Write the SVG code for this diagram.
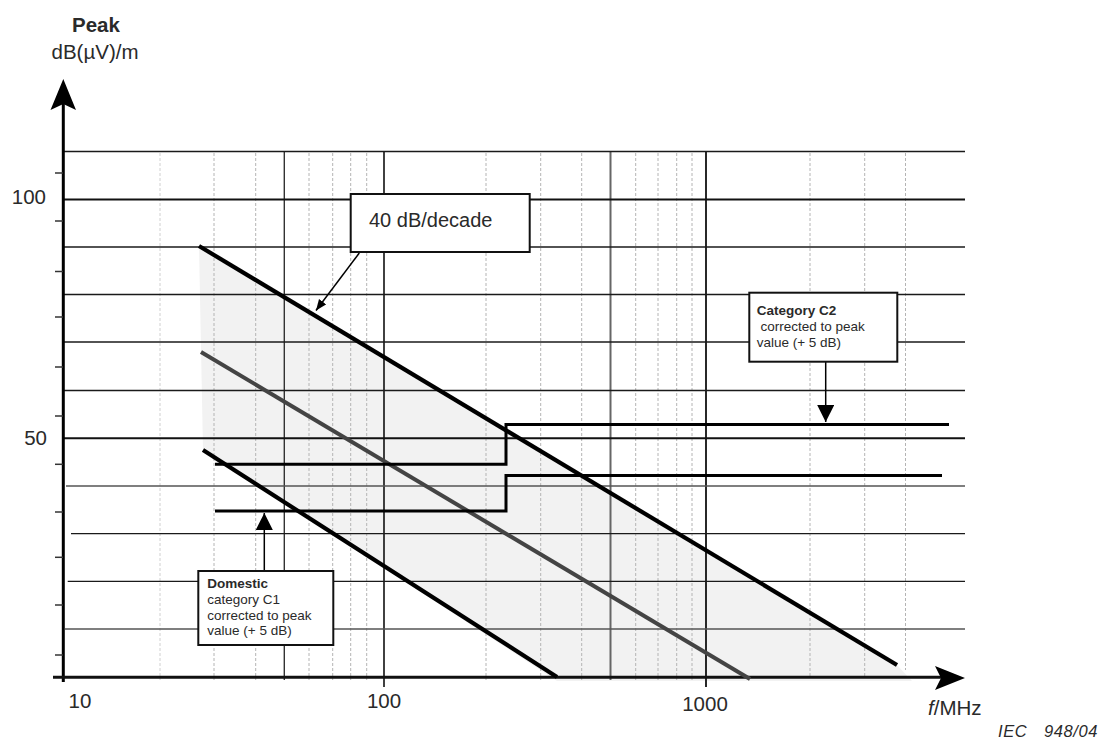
<svg xmlns="http://www.w3.org/2000/svg" width="1100" height="742" viewBox="0 0 1100 742">
<style>
text{font-family:"Liberation Sans",Arial,sans-serif;fill:#2a2a2a}
.hg{stroke:#1a1a1a;stroke-width:1.3;fill:none}
.hgb{stroke:#111;stroke-width:2;fill:none}
.vd{stroke:#b4b4b4;stroke-width:1;stroke-dasharray:3 2;fill:none}
.vs{stroke:#333;stroke-width:1.4;fill:none}
.tick{stroke:#333;stroke-width:1.5}
.lim{stroke:#000;stroke-width:3;fill:none}
.box{fill:#fff;stroke:#111;stroke-width:2}
.lbl{font-size:13.5px}
.num{font-size:20.5px}
.conn{stroke:#000;stroke-width:1.5;fill:none}
</style>
<defs>
<marker id="smallHead" markerUnits="userSpaceOnUse" markerWidth="12" markerHeight="10" refX="11" refY="4.5" orient="auto">
<path d="M0,0 L11,4.5 L0,9 z" fill="#000"/>
</marker>
<marker id="bigHead" markerUnits="userSpaceOnUse" markerWidth="18" markerHeight="18" refX="17" refY="8.5" orient="auto">
<path d="M0,0 L17,8.5 L0,17 z" fill="#000"/>
</marker>
</defs>
<rect width="1100" height="742" fill="#fff"/>

<g id="shading">
<polygon points="199,246 897,665 912,681 557,681 203,450" fill="#f2f2f2"/>
</g>

<g id="grid">
<line class="vd" x1="160" y1="153" x2="160" y2="680" style="stroke:#d0d0d0"/>
<line class="vd" x1="214" y1="153" x2="214" y2="680"/>
<line class="vd" x1="255.7" y1="153" x2="255.7" y2="680"/>
<line class="vd" x1="309" y1="153" x2="309" y2="680"/>
<line class="vd" x1="332.7" y1="153" x2="332.7" y2="680"/>
<line class="vd" x1="350.7" y1="153" x2="350.7" y2="680"/>
<line class="vd" x1="366.7" y1="153" x2="366.7" y2="680"/>
<line class="vd" x1="486" y1="153" x2="486" y2="680"/>
<line class="vd" x1="540.7" y1="153" x2="540.7" y2="680"/>
<line class="vd" x1="581.7" y1="153" x2="581.7" y2="680"/>
<line class="vd" x1="635.7" y1="153" x2="635.7" y2="680"/>
<line class="vd" x1="658" y1="153" x2="658" y2="680"/>
<line class="vd" x1="676.7" y1="153" x2="676.7" y2="680"/>
<line class="vd" x1="692" y1="153" x2="692" y2="680"/>
<line class="vd" x1="810" y1="153" x2="810" y2="677"/>
<line class="vd" x1="864.7" y1="153" x2="864.7" y2="676"/>
<line class="vd" x1="905.5" y1="153" x2="905.5" y2="670"/>
<line class="vs" x1="284.3" y1="151" x2="284.3" y2="680"/>
<line class="vs" x1="384" y1="151" x2="384" y2="687" style="stroke:#111;stroke-width:1.6"/>
<line class="vs" x1="610.5" y1="151" x2="610.5" y2="680" style="stroke:#666;stroke-width:2"/>
<line class="vs" x1="706" y1="151" x2="706" y2="687" style="stroke:#111;stroke-width:1.8"/>
<line class="hg" x1="63" y1="151.5" x2="965" y2="151.5"/>
<line class="hgb" x1="63" y1="199.5" x2="965" y2="199.5"/>
<line class="hg" x1="63" y1="247" x2="965" y2="247"/>
<line class="hg" x1="63" y1="294.5" x2="965" y2="294.5"/>
<line class="hg" x1="63" y1="342" x2="965" y2="342"/>
<line class="hg" x1="63" y1="390.5" x2="965" y2="390.5"/>
<line class="hgb" x1="63" y1="438.3" x2="965" y2="438.3"/>
<line class="hg" x1="66" y1="486" x2="965" y2="486" style="stroke:#555"/>
<line class="hg" x1="71" y1="533.7" x2="965" y2="533.7"/>
<line class="hg" x1="67.7" y1="581.3" x2="965" y2="581.3"/>
<line class="hg" x1="65" y1="629" x2="965" y2="629" style="stroke:#555"/>
</g>

<g id="axes">
<line x1="63.3" y1="682" x2="63.3" y2="100" stroke="#000" stroke-width="3"/>
<polygon points="63.3,79 76,110 63.3,104 50.5,110" fill="#000"/>
<line x1="53" y1="677.3" x2="942" y2="677.3" stroke="#111" stroke-width="3"/>
<polygon points="965,678 935,666 941,678 935,690" fill="#000"/>
<line class="tick" x1="55" y1="173" x2="63" y2="173"/>
<line class="tick" x1="55" y1="221" x2="63" y2="221"/>
<line class="tick" x1="55" y1="271.5" x2="63" y2="271.5"/>
<line class="tick" x1="55" y1="317" x2="63" y2="317"/>
<line class="tick" x1="55" y1="367" x2="63" y2="367"/>
<line class="tick" x1="55" y1="416" x2="63" y2="416"/>
<line class="tick" x1="55" y1="464.3" x2="63" y2="464.3"/>
<line class="tick" x1="55" y1="512" x2="63" y2="512"/>
<line class="tick" x1="55" y1="557.3" x2="63" y2="557.3"/>
<line class="tick" x1="55" y1="605" x2="63" y2="605"/>
<line class="tick" x1="55" y1="655" x2="63" y2="655"/>
<text x="96" y="32" text-anchor="middle" font-size="20.5" font-weight="bold">Peak</text>
<text x="95" y="59" text-anchor="middle" font-size="20.5">dB(µV)/m</text>
<text class="num" x="46" y="204" text-anchor="end">100</text>
<text class="num" x="47" y="445" text-anchor="end">50</text>
<text class="num" x="80" y="708" text-anchor="middle">10</text>
<text class="num" x="384" y="708" text-anchor="middle">100</text>
<text class="num" x="705" y="710.5" text-anchor="middle">1000</text>
<text class="num" x="928" y="715"><tspan font-style="italic">f</tspan>/MHz</text>
<text x="998" y="736.5" font-size="16.5" font-style="italic" letter-spacing="0.6">IEC<tspan x="1044">948/04</tspan></text>
</g>

<g id="curves">
<line x1="199" y1="246" x2="897" y2="665" stroke="#000" stroke-width="4.2"/>
<line x1="201" y1="352" x2="750" y2="679" stroke="#444" stroke-width="4"/>
<line x1="203" y1="450" x2="557" y2="677" stroke="#000" stroke-width="4.2"/>
<polyline class="lim" points="215,464.3 506,464.3 506,424.5 949,424.5"/>
<polyline class="lim" points="215,511 506,511 506,475.5 942,475.5"/>
</g>

<g id="connectors">
<line class="conn" x1="359.3" y1="253" x2="316" y2="310.5" marker-end="url(#smallHead)"/>
<line class="conn" x1="825.7" y1="362" x2="825.7" y2="422" marker-end="url(#bigHead)"/>
<line class="conn" x1="264.3" y1="571" x2="264.3" y2="513" marker-end="url(#bigHead)"/>
</g>

<g id="node-slope">
<rect class="box" x="350.7" y="194" width="179" height="58"/>
<text x="369" y="227" font-size="20">40 dB/decade</text>
</g>

<g id="node-c2">
<rect class="box" x="749.3" y="292.7" width="148" height="69"/>
<text class="lbl" x="756.7" y="315" font-weight="bold">Category C2</text>
<text class="lbl" x="760.5" y="331">corrected to peak</text>
<text class="lbl" x="756.7" y="347">value (+ 5 dB)</text>
</g>

<g id="node-domestic">
<rect class="box" x="198.3" y="571" width="135" height="74"/>
<text class="lbl" x="207.3" y="588" font-weight="bold">Domestic</text>
<text class="lbl" x="207.3" y="604">category C1</text>
<text class="lbl" x="207.3" y="619.5">corrected to peak</text>
<text class="lbl" x="207.3" y="635">value (+ 5 dB)</text>
</g>
</svg>
